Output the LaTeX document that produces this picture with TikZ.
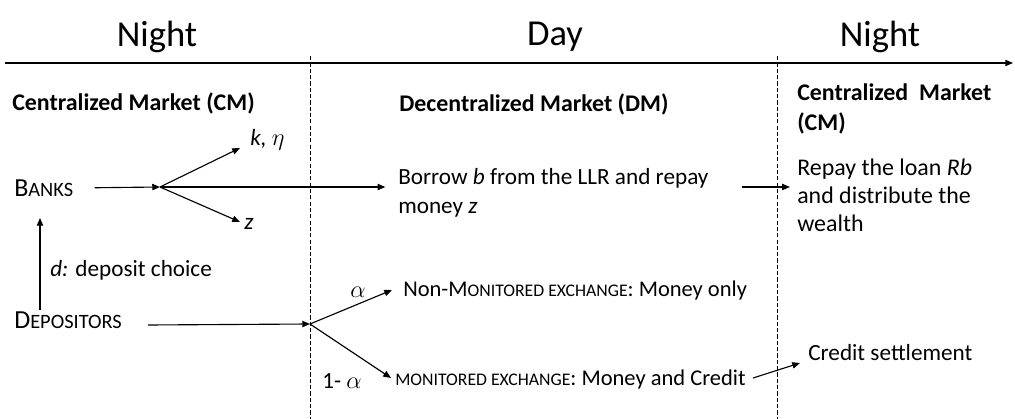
\documentclass[tikz,border=0pt]{standalone}
\usepackage{fontspec}
\setmainfont{Carlito}
\usetikzlibrary{arrows.meta}
\newcommand{\fsc}[1]{{\fontsize{14.5}{17}\selectfont #1}}
\newcommand{\xsc}[1]{{\fontsize{12.6}{15}\selectfont #1}}

\begin{document}
\begin{tikzpicture}[x=0.025cm,y=-0.025cm,
    font=\fontsize{16.5}{21}\selectfont,
    txt/.style={anchor=west,inner sep=0pt,align=left},
    head/.style={txt,font=\fontsize{17}{21}\selectfont\bfseries},
    actor/.style={txt,font=\fontsize{18.5}{21}\selectfont},
    period/.style={font=\fontsize{26}{30}\selectfont},
    arr/.style={-{Triangle[length=5.5pt,width=4.5pt]},line width=0.8pt},
    divider/.style={dash pattern=on 3pt off 1.5pt,line width=0.5pt}]
  \useasboundingbox (0,0) rectangle (1015,419);

  % time line
  \node[period] (night1) at (157,37) {Night};
  \node[period] (day) at (555,37) {Day};
  \node[period] (night2) at (880,37) {Night};
  \coordinate (t0) at (5,63);
  \coordinate (t1) at (1013,63);
  \draw[arr] (t0) -- (t1);
  \coordinate (d1) at (310,56);
  \coordinate (d2) at (777,56);
  \draw[divider] (d1) -- (310,419);
  \draw[divider] (d2) -- (777,419);

  % markets
  \node[head] (cm1) at (12,103) {Centralized Market (CM)};
  \node[head] (dm) at (399,104) {Decentralized Market (DM)};
  \node[head] (cm2) at (797,109) {Centralized\ \ Market\\(CM)};

  % banks
  \node[actor] (banks) at (14,188) {B\fsc{ANKS}};
  \node[txt] (keta) at (250,140) {\textit{k,} $\eta$};
  \node[txt] (zz) at (244,224) {\textit{z}};
  \node[txt] (borrow) at (398,193) {Borrow \textit{b} from the LLR and repay\\money \textit{z}};
  \node[txt,font=\fontsize{17}{20}\selectfont] (repay) at (797,195) {Repay the loan \textit{Rb}\\and distribute the\\wealth};
  \coordinate (bsplit) at (160,187);
  \coordinate (ktip) at (240,148);
  \coordinate (ztip) at (240,222);
  \coordinate (rstart) at (742,187);
  \draw[arr,shorten <=15pt] (banks.east) -- (bsplit);
  \draw[arr] (bsplit) -- (ktip);
  \draw[arr] (bsplit) -- (ztip);
  \draw[arr,shorten >=9pt] (bsplit) -- (bsplit -| borrow.west);
  \draw[arr,shorten >=5pt] (rstart) -- (rstart -| repay.west);

  % depositors
  \node[actor] (depos) at (14,320) {D\fsc{EPOSITORS}};
  \node[txt] (dchoice) at (50,270) {\textit{d:} deposit choice};
  \coordinate (dup) at (40,310);
  \coordinate (btip) at (40,218);
  \coordinate (dstart) at (148,325);
  \coordinate (dsplit) at (310,324);
  \draw[arr] (dup) -- (btip);
  \draw[arr] (dstart) -- (dsplit);

  % exchanges
  \node[txt] (alpha) at (350,292) {$\alpha$};
  \node[txt] (oneminus) at (322,381) {1- $\alpha$};
  \node[txt,font=\fontsize{16}{19}\selectfont] (nonmon) at (403,291) {Non-M\xsc{ONITORED EXCHANGE}: Money only};
  \node[txt,font=\fontsize{16}{19}\selectfont] (mon) at (395,380) {\xsc{MONITORED EXCHANGE}: Money and Credit};
  \node[txt] (settle) at (808,353) {Credit settlement};
  \coordinate (ntip) at (392,290);
  \coordinate (mtip) at (391,378);
  \coordinate (sstart) at (753,378);
  \coordinate (stip) at (800,363);
  \draw[arr] (dsplit) -- (ntip);
  \draw[arr] (dsplit) -- (mtip);
  \draw[arr] (sstart) -- (stip);
\end{tikzpicture}
\end{document}
